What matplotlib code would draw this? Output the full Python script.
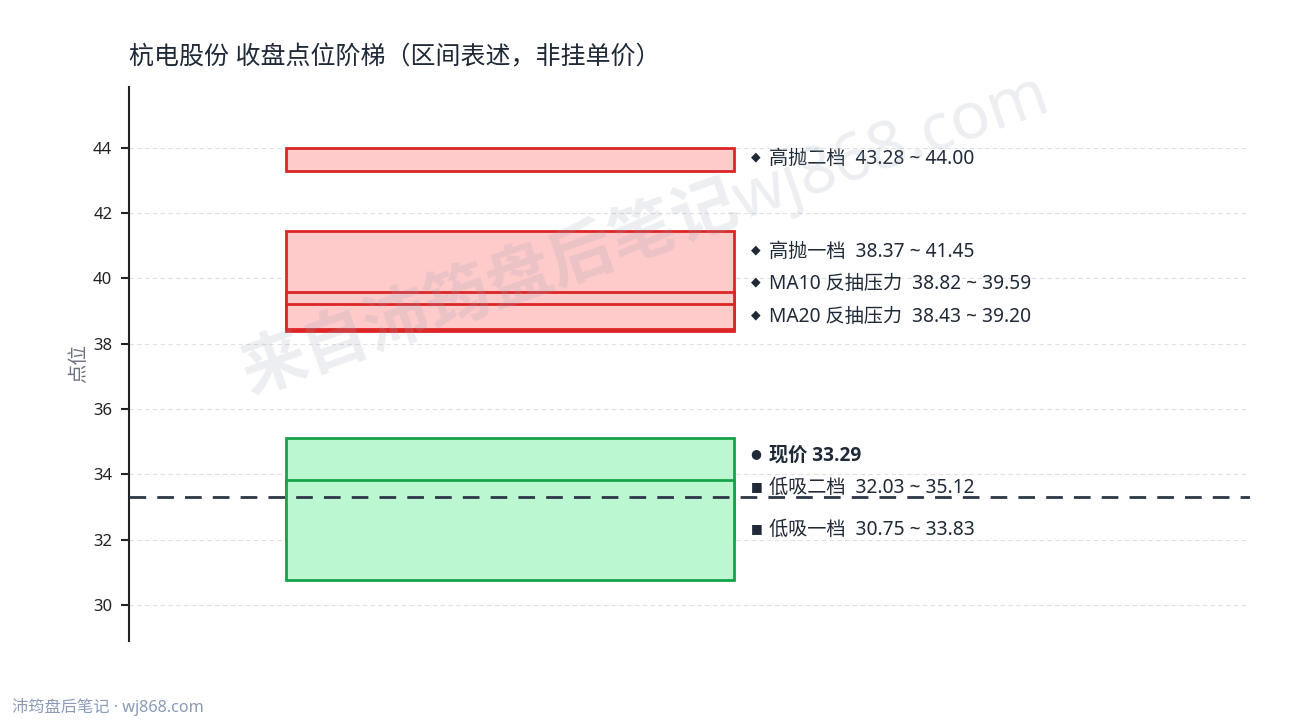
import matplotlib
matplotlib.use("Agg")
import matplotlib.pyplot as plt
from matplotlib.patches import Rectangle

plt.rcParams['font.family'] = ['Noto Sans', 'DejaVu Sans', 'Noto Sans CJK SC']

# 数据
title = "杭电股份 收盘点位阶梯（区间表述，非挂单价）"
current_price = 33.29

# 压力区（按绘制顺序）
res_names = ["高抛二档", "高抛一档", "MA10 反抽压力", "MA20 反抽压力"]
res_low = [43.28, 38.37, 38.82, 38.43]
res_high = [44.00, 41.45, 39.59, 39.20]

# 支撑区（按绘制顺序）
sup_names = ["低吸二档", "低吸一档"]
sup_low = [32.03, 30.75]
sup_high = [35.12, 33.83]

yticks = [30, 32, 34, 36, 38, 40, 42, 44]

RED_FILL, RED_EDGE = "#FECACA", "#DC2626"
GREEN_FILL, GREEN_EDGE = "#BBF7D0", "#16A34A"
TEXT = "#1F2937"

fig = plt.figure(figsize=(12.9, 7.2), dpi=100)
ax = fig.add_axes([0.1, 0.11, 0.869, 0.769])

box_x, box_w = 0.14, 0.40

for lo, hi in zip(res_low, res_high):
    ax.add_patch(Rectangle((box_x, lo), box_w, hi - lo, facecolor=RED_FILL,
                           edgecolor=RED_EDGE, linewidth=2, zorder=2))
for lo, hi in zip(sup_low, sup_high):
    ax.add_patch(Rectangle((box_x, lo), box_w, hi - lo, facecolor=GREEN_FILL,
                           edgecolor=GREEN_EDGE, linewidth=2, zorder=2))

ax.axhline(current_price, color="#2D3748", linewidth=2, linestyle=(0, (6, 4)), zorder=3)

# 标签位置：按区间中点排序，向上错开
gap = 1.0
items = []
for n, lo, hi in zip(res_names, res_low, res_high):
    items.append([(lo + hi) / 2, "◆", "%s  %.2f ~ %.2f" % (n, lo, hi), "normal"])
for n, lo, hi in zip(sup_names, sup_low, sup_high):
    items.append([(lo + hi) / 2, "■", "%s  %.2f ~ %.2f" % (n, lo, hi), "normal"])
items.sort(key=lambda t: t[0])
for i in range(1, len(items)):
    if items[i][0] - items[i - 1][0] < gap:
        items[i][0] = items[i - 1][0] + gap

py = current_price
clash = [it[0] for it in items if abs(it[0] - py) < gap - 1e-6]
if clash:
    py = max(clash) + gap
items.append([py, "●", "现价 %.2f" % current_price, "bold"])

for y, m, s, w in items:
    ax.text(0.5545, y + 0.06, m, fontsize=9, color=TEXT, va="center", ha="left", zorder=4)
    fam = ['Open Sans', 'Noto Sans CJK SC'] if w == "bold" else None
    ax.text(0.571, y, s, fontsize=13.8, color=TEXT, va="center", ha="left",
            fontweight=w, family=fam, zorder=4)

ax.set_xlim(0, 1)
ax.set_ylim(28.9, 45.85)
ax.set_xticks([])
ax.set_yticks(yticks)
ax.tick_params(axis="y", labelsize=12, length=6, width=1.5, pad=6, colors="#222222")
ax.grid(axis="y", color="#E0E0E0", linestyle=(0, (4, 3)), linewidth=0.8)
ax.set_axisbelow(True)
for side in ["top", "right", "bottom"]:
    ax.spines[side].set_visible(False)
ax.spines["left"].set_linewidth(1.5)
ax.spines["left"].set_color("#222222")
ax.set_ylabel("点位", fontsize=14, color="#6B7280", labelpad=3)

fig.text(0.1, 0.92, title, fontsize=18, color=TEXT, ha="left", va="center")

# 水印
fig.text(0.5, 0.677, "来自沛筠盘后笔记wj868.com", fontsize=47, fontweight="bold",
         color="#94A3B8", alpha=0.18, rotation=19.5, ha="center", va="center", zorder=10)

fig.text(0.009, 0.018, "沛筠盘后笔记 · wj868.com", fontsize=11.7, color="#8A9BB8",
         ha="left", va="center")

fig.savefig("out.png", dpi=100)
